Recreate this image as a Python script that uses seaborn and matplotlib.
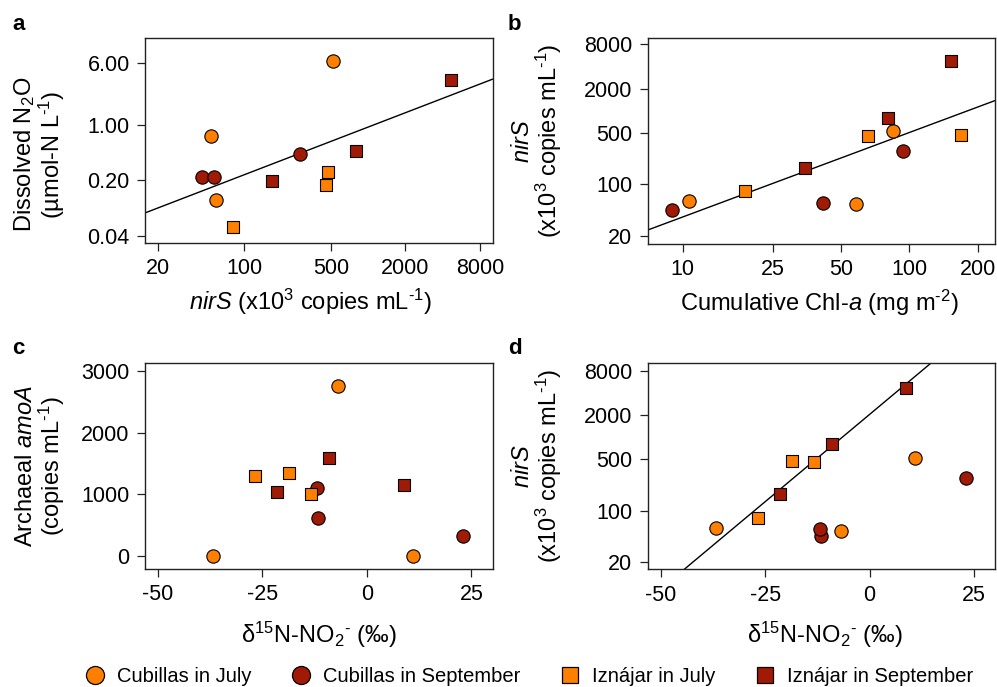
import numpy as np
import pandas as pd
import matplotlib
matplotlib.use("Agg")
import matplotlib.pyplot as plt
from matplotlib.lines import Line2D
from matplotlib.ticker import FixedLocator, FixedFormatter, NullLocator
import seaborn as sns

# Samples: three per group
groups = ["Cubillas in July"] * 3 + ["Cubillas in September"] * 3 + \
         ["Iznájar in July"] * 3 + ["Iznájar in September"] * 3
reservoir = ["Cubillas"] * 6 + ["Iznájar"] * 6

nirs = [59, 54, 525, 45.5, 56.5, 281, 81, 476, 461, 167, 803, 4700]          # x10^3 copies/mL
n2o = [0.111, 0.72, 6.37, 0.22, 0.22, 0.43, 0.052, 0.255, 0.175, 0.195, 0.47, 3.61]  # umol-N/L
chla = [10.7, 58.4, 84.7, 9.0, 41.6, 93.4, 18.9, 168, 65.5, 34.7, 80.5, 153]  # mg/m2
d15n = [-36.8, -6.9, 11.0, -11.6, -11.8, 23.1, -26.8, -18.6, -13.3, -21.4, -9.1, 8.8]
amoa = [0, 2750, 0, 612, 1094, 325, 1300, 1342, 1000, 1030, 1580, 1142]       # copies/mL

group_order = ["Cubillas in July", "Cubillas in September",
               "Iznájar in July", "Iznájar in September"]
colors = {"Cubillas in July": "#FF8000", "Cubillas in September": "#A01A05",
          "Iznájar in July": "#FF8000", "Iznájar in September": "#A01A05"}
markers = {"Cubillas in July": "o", "Cubillas in September": "o",
           "Iznájar in July": "s", "Iznájar in September": "s"}

df = pd.DataFrame({"group": groups, "reservoir": reservoir, "nirS": nirs,
                   "N2O": n2o, "chla": chla, "d15N": d15n, "amoA": amoa})

sns.set_theme(style="ticks")
plt.rcParams["font.family"] = ["Liberation Sans", "DejaVu Sans"]
plt.rcParams["mathtext.fontset"] = "custom"
plt.rcParams["mathtext.rm"] = "Liberation Sans"
plt.rcParams["mathtext.it"] = "Liberation Sans:italic"
plt.rcParams["mathtext.bf"] = "Liberation Sans:bold"
plt.rcParams["axes.unicode_minus"] = False
plt.rcParams["text.color"] = "black"
plt.rcParams["axes.labelcolor"] = "black"

TICK_FS = 15.5
LABEL_FS = 17

fig = plt.figure(figsize=(9.97, 6.87), dpi=100)
W, H = 997, 687


def add_axes(l, t, r, b):
    return fig.add_axes([l / W, 1 - b / H, (r - l) / W, (b - t) / H])


ax_a = add_axes(145, 37.7, 492.7, 243)
ax_b = add_axes(647.7, 37.7, 995, 243.7)
ax_c = add_axes(145, 362.7, 492.7, 569)
ax_d = add_axes(647.7, 363.3, 995, 569.3)


def scatter(ax, x, y):
    for g in group_order:
        sub = df[df["group"] == g]
        sns.scatterplot(data=sub, x=x, y=y, ax=ax, color=colors[g],
                        marker=markers[g], s=92 if markers[g] == "o" else 70,
                        edgecolor="black", linewidth=0.8, legend=False,
                        zorder=3)


def style(ax, xticks, xlabels, yticks, ylabels):
    ax.xaxis.set_major_locator(FixedLocator(xticks))
    ax.xaxis.set_major_formatter(FixedFormatter(xlabels))
    ax.yaxis.set_major_locator(FixedLocator(yticks))
    ax.yaxis.set_major_formatter(FixedFormatter(ylabels))
    ax.xaxis.set_minor_locator(NullLocator())
    ax.yaxis.set_minor_locator(NullLocator())
    ax.tick_params(axis="both", direction="out", length=6, width=0.9,
                   color="#222222", labelcolor="black", labelsize=TICK_FS,
                   pad=5)
    for sp in ax.spines.values():
        sp.set_linewidth(1.0)
        sp.set_color("#222222")


def fit_line(ax, x, y, logx, logy, xlim):
    xv = np.log10(x) if logx else np.asarray(x, float)
    yv = np.log10(y) if logy else np.asarray(y, float)
    slope, icpt = np.polyfit(xv, yv, 1)
    if logx:
        xs = np.logspace(np.log10(xlim[0]), np.log10(xlim[1]), 200)
        xf = np.log10(xs)
    else:
        xs = np.linspace(xlim[0], xlim[1], 200)
        xf = xs
    yf = icpt + slope * xf
    ys = 10 ** yf if logy else yf
    ax.plot(xs, ys, color="black", linewidth=1.0, zorder=2)


NIRS_Y = "$nirS$\n(x10$^{3}$ copies mL$^{\\text{-1}}$)"
D15N_X = r"δ$^{15}$N-NO$_2$$^{\text{-}}$ (‰)"

# a: dissolved N2O vs nirS
ax = ax_a
ax.set_xscale("log")
ax.set_yscale("log")
xlim_a = (15.8, 10130)
scatter(ax, "nirS", "N2O")
fit_line(ax, df["nirS"], df["N2O"], True, True, xlim_a)
ax.set_xlim(*xlim_a)
ax.set_ylim(0.0324, 12.4)
style(ax, [20, 100, 500, 2000, 8000], ["20", "100", "500", "2000", "8000"],
      [0.04, 0.2, 1, 6], ["0.04", "0.20", "1.00", "6.00"])
ax.set_xlabel(r"$nirS$ (x10$^{3}$ copies mL$^{\text{-1}}$)", fontsize=LABEL_FS)
ax.set_ylabel("Dissolved N$_2$O\n(µmol-N L$^{\\text{-1}}$)", fontsize=LABEL_FS,
              linespacing=1.0)

# b: nirS vs cumulative Chl-a
ax = ax_b
ax.set_xscale("log")
ax.set_yscale("log")
xlim_b = (7.01, 238.4)
scatter(ax, "chla", "nirS")
fit_line(ax, df["chla"], df["nirS"], True, True, xlim_b)
ax.set_xlim(*xlim_b)
ax.set_ylim(15.7, 9840)
style(ax, [10, 25, 50, 100, 200], ["10", "25", "50", "100", "200"],
      [20, 100, 500, 2000, 8000], ["20", "100", "500", "2000", "8000"])
ax.set_xlabel(r"Cumulative Chl-$a$ (mg m$^{\text{-2}}$)", fontsize=LABEL_FS)
ax.set_ylabel(NIRS_Y, fontsize=LABEL_FS, linespacing=1.0)

# c: archaeal amoA vs d15N-NO2
ax = ax_c
scatter(ax, "d15N", "amoA")
ax.set_xlim(-53.0, 30.1)
ax.set_ylim(-216, 3135)
style(ax, [-50, -25, 0, 25], ["-50", "-25", "0", "25"],
      [0, 1000, 2000, 3000], ["0", "1000", "2000", "3000"])
ax.set_xlabel(D15N_X, fontsize=LABEL_FS)
ax.set_ylabel("Archaeal $amoA$\n(copies mL$^{\\text{-1}}$)", fontsize=LABEL_FS,
              linespacing=1.0)

# d: nirS vs d15N-NO2, fitted on Iznájar samples
ax = ax_d
ax.set_yscale("log")
xlim_d = (-53.2, 30.1)
scatter(ax, "d15N", "nirS")
izn = df[df["reservoir"] == "Iznájar"]
fit_line(ax, izn["d15N"], izn["nirS"], False, True, xlim_d)
ax.set_xlim(*xlim_d)
ax.set_ylim(16.1, 10090)
style(ax, [-50, -25, 0, 25], ["-50", "-25", "0", "25"],
      [20, 100, 500, 2000, 8000], ["20", "100", "500", "2000", "8000"])
ax.set_xlabel(D15N_X, fontsize=LABEL_FS)
ax.set_ylabel(NIRS_Y, fontsize=LABEL_FS, linespacing=1.0)

# label positions
ax_a.yaxis.set_label_coords(-0.225, 0.43)
ax_c.yaxis.set_label_coords(-0.225, 0.5)
ax_b.yaxis.set_label_coords(-0.24, 0.5)
ax_d.yaxis.set_label_coords(-0.24, 0.5)
ax_a.xaxis.set_label_coords(0.475, -0.215)
ax_b.xaxis.set_label_coords(0.493, -0.215)
ax_c.xaxis.set_label_coords(0.499, -0.245)
ax_d.xaxis.set_label_coords(0.509, -0.245)

# panel letters
for letter, (x, y) in zip("abcd", [(12, 24), (508, 24), (12, 349), (508, 349)]):
    fig.text(x / W, 1 - y / H, letter, fontsize=16, fontweight="bold",
             ha="left", va="center")

# legend
handles = [Line2D([], [], linestyle="none", marker=markers[g],
                  markersize=13 if markers[g] == "o" else 12.2,
                  markerfacecolor=colors[g], markeredgecolor="black",
                  markeredgewidth=0.9) for g in group_order]
fig.legend(handles, group_order, loc="center", ncol=4, frameon=False,
           bbox_to_anchor=(529 / W, 1 - 677 / H), fontsize=14.5,
           handlelength=1.0, handletextpad=0.6, columnspacing=1.95,
           borderaxespad=0)

fig.savefig("out.png", dpi=100)
